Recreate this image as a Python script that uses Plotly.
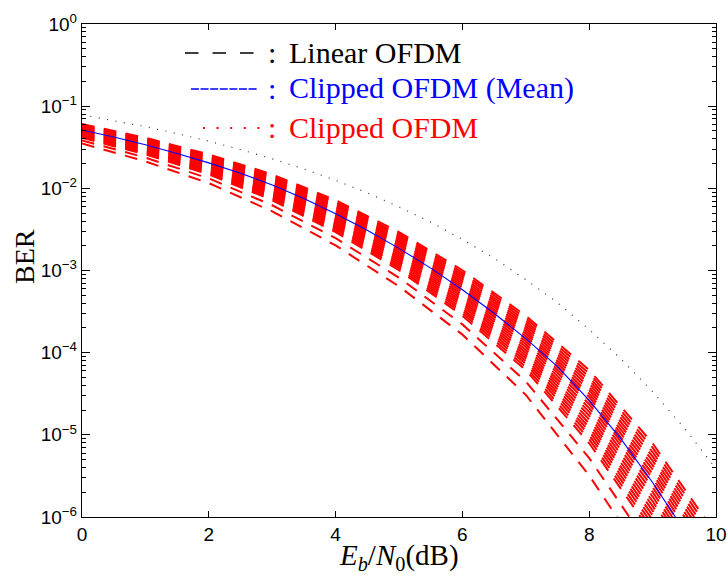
import plotly.graph_objects as go

# ---------------- data ----------------
snr_fine_db = [0, 0.5, 1, 1.5, 2, 2.5, 3, 3.5, 4, 4.5, 5, 5.5, 6, 6.5, 7, 7.5, 8, 8.5, 9, 9.5, 10]

ber_linear_ofdm = [7.86e-2, 6.71e-2, 5.63e-2, 4.64e-2, 3.75e-2, 2.96e-2, 2.29e-2, 1.72e-2, 1.25e-2,
                   8.8e-3, 5.95e-3, 3.88e-3, 2.39e-3, 1.41e-3, 7.73e-4, 4.06e-4, 1.91e-4, 8.4e-5,
                   3.36e-5, 1.21e-5, 3.87e-6]

ber_clipped_mean = [5.13e-2, 4.22e-2, 3.39e-2, 2.66e-2, 2.04e-2, 1.53e-2, 1.10e-2, 7.50e-3, 4.90e-3,
                    3.09e-3, 1.86e-3, 1.07e-3, 5.82e-4, 3.02e-4, 1.48e-4, 6.76e-5, 2.63e-5, 8.91e-6,
                    2.63e-6, 7.08e-7, 1.78e-7]

snr_coarse_db = [0, 1, 2, 3, 4, 5, 6, 7, 8, 9, 10]

# individual clipped-OFDM realisations, log10(BER), from upper edge of the band downwards
red_log10_01 = [-1.218, -1.385, -1.587, -1.830, -2.144, -2.532, -2.997, -3.551, -4.211, -5.103, -6.210]
red_log10_02 = [-1.226, -1.395, -1.599, -1.845, -2.163, -2.554, -3.024, -3.582, -4.252, -5.156, -6.270]
red_log10_03 = [-1.234, -1.404, -1.610, -1.859, -2.181, -2.576, -3.050, -3.613, -4.293, -5.209, -6.330]
red_log10_04 = [-1.242, -1.414, -1.622, -1.874, -2.200, -2.598, -3.077, -3.644, -4.334, -5.262, -6.390]
red_log10_05 = [-1.250, -1.423, -1.633, -1.888, -2.218, -2.620, -3.103, -3.675, -4.375, -5.315, -6.450]
red_log10_06 = [-1.258, -1.433, -1.645, -1.903, -2.237, -2.642, -3.130, -3.706, -4.416, -5.368, -6.510]
red_log10_07 = [-1.266, -1.442, -1.656, -1.917, -2.255, -2.664, -3.156, -3.737, -4.457, -5.421, -6.570]
red_log10_08 = [-1.274, -1.452, -1.668, -1.932, -2.274, -2.686, -3.183, -3.768, -4.498, -5.474, -6.630]
red_log10_09 = [-1.282, -1.461, -1.679, -1.946, -2.292, -2.708, -3.209, -3.799, -4.539, -5.527, -6.690]
red_log10_10 = [-1.291, -1.471, -1.691, -1.962, -2.311, -2.731, -3.237, -3.832, -4.583, -5.582, -6.751]
red_log10_11 = [-1.299, -1.481, -1.703, -1.977, -2.330, -2.754, -3.264, -3.864, -4.627, -5.637, -6.812]
red_log10_12 = [-1.308, -1.492, -1.716, -1.994, -2.350, -2.778, -3.293, -3.898, -4.674, -5.694, -6.874]
red_log10_13 = [-1.316, -1.502, -1.728, -2.010, -2.370, -2.802, -3.321, -3.932, -4.721, -5.751, -6.936]
red_log10_14 = [-1.325, -1.513, -1.741, -2.027, -2.390, -2.826, -3.350, -3.966, -4.768, -5.808, -6.998]
red_log10_15 = [-1.333, -1.523, -1.753, -2.043, -2.410, -2.850, -3.378, -4.000, -4.815, -5.865, -7.060]
red_log10_16 = [-1.342, -1.534, -1.766, -2.060, -2.430, -2.874, -3.407, -4.034, -4.862, -5.922, -7.122]
red_log10_17 = [-1.350, -1.544, -1.778, -2.076, -2.450, -2.898, -3.435, -4.068, -4.909, -5.979, -7.184]
red_log10_18 = [-1.359, -1.555, -1.791, -2.093, -2.470, -2.922, -3.464, -4.102, -4.956, -6.036, -7.246]
red_log10_19 = [-1.367, -1.565, -1.803, -2.109, -2.490, -2.946, -3.492, -4.136, -5.003, -6.093, -7.308]
red_log10_20 = [-1.376, -1.576, -1.817, -2.127, -2.511, -2.972, -3.522, -4.174, -5.053, -6.152, -7.371]
red_log10_21 = [-1.385, -1.587, -1.830, -2.144, -2.532, -2.997, -3.551, -4.211, -5.103, -6.210, -7.433]
red_log10_22 = [-1.417, -1.626, -1.879, -2.206, -2.607, -3.087, -3.656, -4.350, -5.283, -6.414, -7.647]
red_log10_23 = [-1.455, -1.672, -1.937, -2.280, -2.695, -3.193, -3.780, -4.514, -5.495, -6.654, -7.899]

red_curves = [red_log10_01, red_log10_02, red_log10_03, red_log10_04, red_log10_05, red_log10_06,
              red_log10_07, red_log10_08, red_log10_09, red_log10_10, red_log10_11, red_log10_12,
              red_log10_13, red_log10_14, red_log10_15, red_log10_16, red_log10_17, red_log10_18,
              red_log10_19, red_log10_20, red_log10_21, red_log10_22, red_log10_23]

y_tick_vals = [1e-6, 1e-5, 1e-4, 1e-3, 1e-2, 1e-1, 1e0]
y_tick_text = ["10<sup>\u22126</sup>", "10<sup>\u22125</sup>", "10<sup>\u22124</sup>",
               "10<sup>\u22123</sup>", "10<sup>\u22122</sup>", "10<sup>\u22121</sup>", "10<sup>0</sup>"]
x_tick_vals = [0, 2, 4, 6, 8, 10]

legend_labels = ["Linear OFDM", "Clipped OFDM (Mean)", "Clipped OFDM"]
legend_colors = ["#000000", "#0000ff", "#ff0000"]

# ---------------- figure ----------------
fig = go.Figure()

for curve in red_curves:
    fig.add_trace(go.Scatter(
        x=snr_coarse_db, y=[10 ** v for v in curve], mode="lines",
        line=dict(color="#ff0000", width=2.0, dash="12.7px,9.6px", simplify=False),
        showlegend=False, hoverinfo="skip"))

fig.add_trace(go.Scatter(
    x=snr_fine_db, y=ber_linear_ofdm, mode="lines",
    line=dict(color="#333333", width=1.2, dash="1px,7.5px"),
    showlegend=False))

fig.add_trace(go.Scatter(
    x=snr_fine_db, y=ber_clipped_mean, mode="lines",
    line=dict(color="#0000ff", width=1.1),
    showlegend=False))

# plot area in pixels: x 82..716, y 24..517
L, R, T, B = 82, 716, 24, 517
W, H = R - L, B - T


def px(xp):
    return (xp - L) / W


def py(yp):
    return (B - yp) / H


serif = "Liberation Serif, Times New Roman, serif"

# hand-drawn legend (as in the original figure)
sample_rows = [
    dict(x0=185, x1=254, y=53, dash="13.5px,14px", width=1.3, color=legend_colors[0]),
    dict(x0=191, x1=258, y=89, dash="8px,1.6px", width=1.6, color=legend_colors[1]),
    dict(x0=203, x1=261, y=128, dash="2px,11.6px", width=2.0, color=legend_colors[2]),
]
for row, label in zip(sample_rows, legend_labels):
    fig.add_shape(type="line", xref="paper", yref="paper",
                  x0=px(row["x0"]), x1=px(row["x1"]), y0=py(row["y"]), y1=py(row["y"]),
                  line=dict(color=row["color"], width=row["width"], dash=row["dash"]))
    fig.add_annotation(xref="paper", yref="paper", x=px(272), y=py(row["y"] - 1),
                       text=":", showarrow=False, xanchor="center", yanchor="middle",
                       font=dict(family=serif, size=30, color=row["color"]))
    fig.add_annotation(xref="paper", yref="paper", x=px(287), y=py(row["y"] - 1),
                       text=label, showarrow=False, xanchor="left", yanchor="middle",
                       font=dict(family=serif, size=30, color=row["color"]))

# axis titles
fig.add_annotation(xref="paper", yref="paper", x=0.5, y=py(557),
                   text="<i>E</i><sub><i>b</i></sub>/<i>N</i><sub>0</sub>(dB)",
                   showarrow=False, xanchor="center", yanchor="middle",
                   font=dict(family=serif, size=29, color="#000000"))
fig.add_annotation(xref="paper", yref="paper", x=px(24), y=py(257),
                   text="BER", textangle=-90, showarrow=False,
                   xanchor="center", yanchor="middle",
                   font=dict(family=serif, size=28, color="#000000"))

minor_y = [m * 10.0 ** e for e in range(-6, 0) for m in range(2, 10)]

fig.update_xaxes(range=[0, 10], tickvals=x_tick_vals, ticks="inside", ticklen=6,
                 tickcolor="#000000", showline=True, linecolor="#000000", linewidth=1.2,
                 mirror="ticks", showgrid=False, zeroline=False, automargin=False,
                 tickfont=dict(family="Liberation Sans", size=19, color="#000000"))
fig.update_yaxes(type="log", range=[-6, 0], tickvals=y_tick_vals, ticktext=y_tick_text,
                 ticks="inside", ticklen=8, tickcolor="#000000", showline=True,
                 linecolor="#000000", linewidth=1.2, mirror="ticks", showgrid=False,
                 zeroline=False, automargin=False,
                 minor=dict(tickvals=minor_y, ticks="inside", ticklen=4, tickcolor="#000000",
                            showgrid=False),
                 tickfont=dict(family="Liberation Sans", size=19, color="#000000"))

fig.update_layout(width=728, height=576, margin=dict(l=L, r=728 - R, t=T, b=576 - B),
                  paper_bgcolor="#ffffff", plot_bgcolor="#ffffff", showlegend=False,
                  hovermode=False)

fig.write_html("out.html", config={"displayModeBar": False, "staticPlot": True},
               post_script="document.body.style.margin='0';document.body.style.overflow='hidden';")
